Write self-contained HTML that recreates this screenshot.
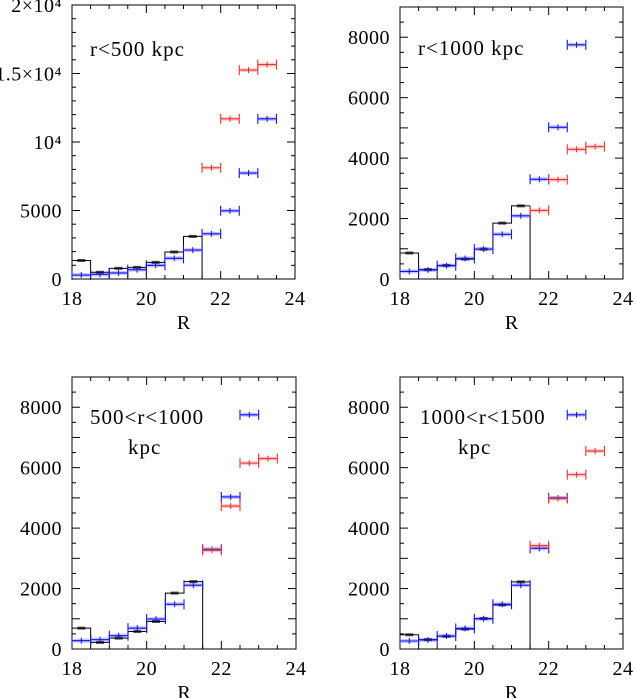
<!DOCTYPE html>
<html><head><meta charset="utf-8"><style>
html,body{margin:0;padding:0;background:#fff;width:635px;height:698px;overflow:hidden}
svg text{font-family:"Liberation Serif",serif;fill:#000}
</style></head><body>
<svg id="fig" width="635" height="698" viewBox="0 0 635 698" xmlns="http://www.w3.org/2000/svg"></svg>
<script>
const binEdges=[18,18.5,19,19.5,20,20.5,21,21.5,22,22.5,23,23.5];
// panel 1: r<500 kpc
const p1Black=[1350,490,780,850,1215,1970,3110];
const p1Blue=[290,340,440,680,1000,1510,2110,3300,4980,7730,11690];
const p1Red=[8120,11690,15250,15650];
// panel 2: r<1000 kpc
const p2Black=[860,310,450,660,990,1850,2420];
const p2Blue=[250,300,440,680,990,1480,2090,3300,5020,7750];
const p2Red=[2270,3290,4290,4380];
// panel 3: 500<r<1000 kpc
const p3Black=[690,220,360,580,910,1850,2230];
const p3Blue=[275,310,440,690,990,1480,2110,3300,5030,7750];
const p3Red=[3270,4730,6150,6300];
// panel 4: 1000<r<1500 kpc
const p4Black=[470,310,420,660,1010,1460,2220];
const p4Blue=[265,300,430,680,1000,1480,2110,3330,5000,7750];
const p4Red=[3420,4980,5770,6550];
const xTicks=[18,20,22,24];
const yTicks1=["0","5000","10⁴","1.5×10⁴","2×10⁴"];
const yTicks2=["0","2000","4000","6000","8000"];

const NS="http://www.w3.org/2000/svg";
const svg=document.getElementById('fig');
function mk(tag,attrs,parent){const e=document.createElementNS(NS,tag);for(const k in attrs)e.setAttribute(k,attrs[k]);(parent||svg).appendChild(e);return e;}

const panels=[
 {name:'r-lt-500',x0:72,x1:295,y0:5,y1:279,ymax:20000,minor:1000,major:5000,labels:yTicks1,labelStep:5000,black:p1Black,blue:p1Blue,red:p1Red,title:['r<500 kpc'],tx:90,ty:56},
 {name:'r-lt-1000',x0:400,x1:623,y0:7,y1:279,ymax:9000,minor:500,major:1000,labels:yTicks2,labelStep:2000,black:p2Black,blue:p2Blue,red:p2Red,title:['r<1000 kpc'],tx:418,ty:55},
 {name:'r-500-1000',x0:72,x1:296,y0:377,y1:649,ymax:9000,minor:500,major:1000,labels:yTicks2,labelStep:2000,black:p3Black,blue:p3Blue,red:p3Red,title:['500<r<1000','kpc'],tx:90,ty:424},
 {name:'r-1000-1500',x0:400,x1:623,y0:377,y1:649,ymax:9000,minor:500,major:1000,labels:yTicks2,labelStep:2000,black:p4Black,blue:p4Blue,red:p4Red,title:['1000<r<1500','kpc'],tx:420,ty:424}
];

panels.forEach(p=>{
 const g=mk('g',{});
 
 
 const sx=v=>p.x0+(v-18)/6*(p.x1-p.x0);
 const sy=v=>p.y1-v/p.ymax*(p.y1-p.y0);
 const fr=mk('rect',{x:p.x0,y:p.y0,width:p.x1-p.x0,height:p.y1-p.y0,fill:'none',stroke:'#000','stroke-width':1},g);
 
 
 for(let v=0;v<=p.ymax+1;v+=p.minor){
  const len=(v%p.major===0)?8:4;const y=sy(v);
  mk('line',{x1:p.x0,x2:p.x0+len,y1:y,y2:y,stroke:'#000'},g);
  mk('line',{x1:p.x1,x2:p.x1-len,y1:y,y2:y,stroke:'#000'},g);
 }
 p.labels.forEach((lab,i)=>{
  const t=mk('text',{x:p.x0-10,y:sy(i*p.labelStep)+7,'text-anchor':'end','font-size':20,'letter-spacing':'0.5'},g);
  t.textContent=lab;
  
  
 });
 for(let v=18;v<=24.001;v+=0.5){
  const len=(Math.abs(v-Math.round(v/2)*2)<1e-6)?8:4;const x=sx(v);
  mk('line',{x1:x,x2:x,y1:p.y1,y2:p.y1-len,stroke:'#000'},g);
  mk('line',{x1:x,x2:x,y1:p.y0,y2:p.y0+len,stroke:'#000'},g);
 }
 xTicks.forEach(v=>{
  const t=mk('text',{x:sx(v),y:p.y1+26,'text-anchor':'middle','font-size':20,'letter-spacing':'0.5'},g);
  t.textContent=v;
  
  
 });
 const xl=mk('text',{x:(p.x0+p.x1)/2,y:p.y1+50,'text-anchor':'middle','font-size':20},g);
 xl.textContent='R';
 
 
 p.title.forEach((s,i)=>{
  const t=mk('text',{x:i===0?p.tx:p.tx+38,y:p.ty+i*30,'font-size':21,'letter-spacing':'1'},g);
  t.textContent=s;
  
  
 });
 let d='M'+sx(18)+','+sy(0);
 p.black.forEach((v,i)=>{d+=' L'+sx(binEdges[i])+','+sy(v)+' L'+sx(binEdges[i+1])+','+sy(v);});
 d+=' L'+sx(binEdges[p.black.length])+','+sy(0);
 const bh=mk('path',{d:d,fill:'none',stroke:'#000','stroke-width':1},g);
 
 
 p.black.forEach((v,i)=>{
  const c=sx((binEdges[i]+binEdges[i+1])/2);
  const e=mk('rect',{x:c-4,y:sy(v)-1.5,width:8,height:3,fill:'#000',opacity:0.7},g);
  
  
 });
 function series(vals,col,offset,name){
  vals.forEach((v,j)=>{
   const i=j+offset;const a=sx(binEdges[i]),b=sx(binEdges[i+1]),y=sy(v),c=(a+b)/2;
   const gg=mk('g',{},g);
   
   
   mk('rect',{x:c-8,y:y-2,width:16,height:4,fill:col,opacity:0.25},gg);
   mk('line',{x1:a,x2:b,y1:y,y2:y,stroke:col,'stroke-width':1.1},gg);
   mk('line',{x1:a,x2:a,y1:y-5,y2:y+5,stroke:col,'stroke-width':1.1},gg);
   mk('line',{x1:b,x2:b,y1:y-5,y2:y+5,stroke:col,'stroke-width':1.1},gg);
   mk('line',{x1:c,x2:c,y1:y-3,y2:y+3,stroke:col,'stroke-width':1},gg);
  });
 }
 series(p.blue,'#1010ee',0,'blue');
 series(p.red,'#f03030',7,'red');
});
</script>
</body></html>
